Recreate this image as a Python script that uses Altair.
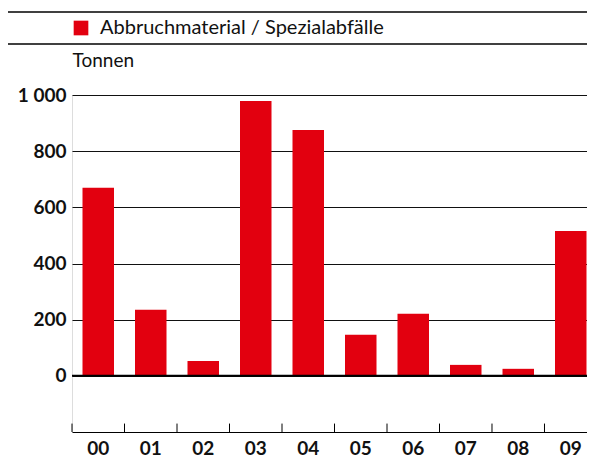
import altair as alt
import pandas as pd

years = ["00", "01", "02", "03", "04", "05", "06", "07", "08", "09"]
values = [670, 235, 53, 979, 875, 146, 221, 39, 25, 516]
series = "Abbruchmaterial / Spezialabfälle"
y_ticks = [0, 200, 400, 600, 800, 1000]
unit = "Tonnen"

FONT = "Lato"
RED = "#e2000f"
W, H = 515, 337

df = pd.DataFrame({"year": years, "value": values, "series": [series] * len(years)})

xscale = alt.Scale(domain=years, paddingInner=0.4, paddingOuter=0.1048, align=0.9545)
yscale = alt.Scale(domain=[-200, 1000], nice=False)

bars = alt.Chart(df).mark_bar(color=RED).encode(
    x=alt.X("year:N", scale=xscale, sort=years,
            axis=alt.Axis(title=None, labelAngle=0, ticks=False, domain=True,
                          domainColor="#000", domainWidth=1, labelFont=FONT,
                          labelFontSize=19, labelFontWeight="bold", labelColor="#111",
                          labelPadding=7.5, grid=False)),
    y=alt.Y("value:Q", scale=yscale,
            axis=alt.Axis(title=unit, values=y_ticks, grid=True, gridColor="#111",
                          gridWidth=1, ticks=False, domain=False, labelFont=FONT,
                          labelFontSize=19, labelFontWeight="bold", labelColor="#111",
                          labelPadding=6,
                          labelExpr="replace(format(datum.value, ','), ',', '\u00a0')",
                          titleAngle=0, titleAlign="left", titleBaseline="alphabetic",
                          titleX=0, titleY=-28.5, titleFont=FONT, titleFontSize=19,
                          titleFontWeight="normal", titleColor="#111")),
    color=alt.Color("series:N", scale=alt.Scale(range=[RED]),
                    legend=alt.Legend(orient="none", legendX=-1, legendY=-77, title=None,
                                      symbolType="square", symbolSize=215,
                                      symbolStrokeWidth=0, symbolOpacity=1,
                                      labelFont=FONT, labelFontSize=20, labelColor="#111",
                                      labelOffset=9, labelLimit=0)),
)

ticks_df = pd.DataFrame({"year": years})
xticks = alt.Chart(ticks_df).mark_rule(color="#000", strokeWidth=1, xOffset=-10.5).encode(
    x=alt.X("year:N", scale=xscale, sort=years, bandPosition=0),
    y=alt.datum(-200),
    y2=alt.datum(-170),
)

zero = alt.Chart(pd.DataFrame({"v": [0]})).mark_rule(color="#000", strokeWidth=2).encode(
    y=alt.Y("v:Q", scale=yscale),
)

top_line = alt.Chart(pd.DataFrame({"v": [0]})).mark_rule(color="#000", strokeWidth=1.5).encode(
    x=alt.value(-64), x2=alt.value(W), y=alt.value(-83)
)
mid_line = alt.Chart(pd.DataFrame({"v": [0]})).mark_rule(color="#000", strokeWidth=1.5).encode(
    x=alt.value(-64), x2=alt.value(W), y=alt.value(-51)
)

chart = alt.layer(bars, xticks, zero, top_line, mid_line).properties(
    width=W, height=H,
    autosize=alt.AutoSizeParams(type="none"),
    padding={"left": 64, "top": 87, "right": 0, "bottom": 26},
).configure_view(stroke=None).configure(background="white")

chart.save("out.html", embed_options={"renderer": "svg", "actions": False})
